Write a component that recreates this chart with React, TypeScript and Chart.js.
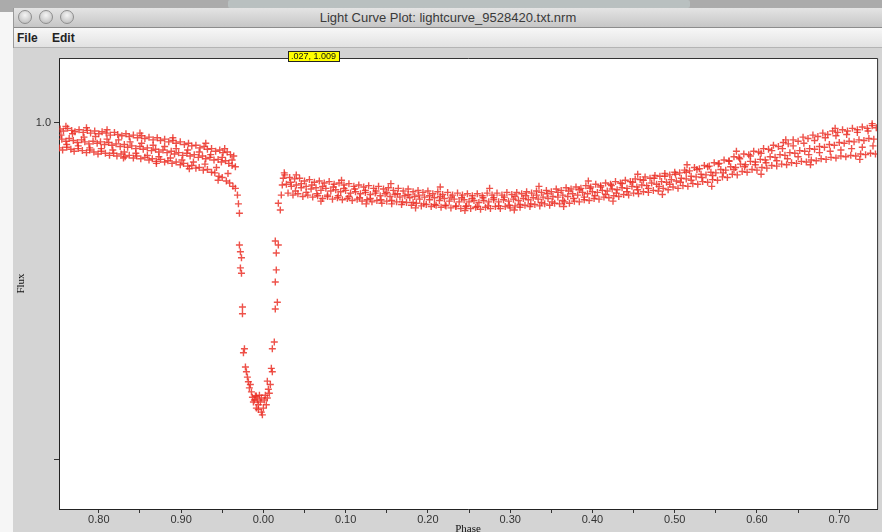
import React, { useEffect, useRef } from 'react';
import { Chart, registerables } from 'chart.js';

Chart.register(...registerables);

// ---- light curve data (phase, normalised flux) ----
// Overlapping cycles before the primary eclipse
const aPrePhase = [-0.247,-0.243,-0.238,-0.233,-0.229,-0.224,-0.219,-0.214,-0.210,-0.205,-0.200,-0.196,-0.191,-0.186,-0.181,-0.177,-0.172,-0.167,-0.163,-0.158,-0.153,-0.148,-0.144,-0.139,-0.134,-0.129,-0.125,-0.120,-0.115,-0.110,-0.106,-0.101,-0.096,-0.091,-0.087,-0.082,-0.077,-0.072,-0.068,-0.063,-0.058,-0.053,-0.049,-0.044,-0.040,-0.036];
const aPreFlux = [0.991,0.988,0.992,0.989,0.987,0.990,0.986,0.989,0.985,0.988,0.984,0.987,0.985,0.982,0.986,0.983,0.981,0.984,0.980,0.982,0.978,0.981,0.977,0.979,0.975,0.978,0.974,0.976,0.972,0.974,0.970,0.972,0.968,0.970,0.966,0.967,0.963,0.965,0.961,0.962,0.958,0.960,0.956,0.957,0.953,0.951];

const bPrePhase = [-0.245,-0.240,-0.236,-0.231,-0.226,-0.221,-0.217,-0.212,-0.207,-0.202,-0.198,-0.193,-0.188,-0.184,-0.179,-0.174,-0.169,-0.165,-0.160,-0.155,-0.150,-0.146,-0.141,-0.136,-0.131,-0.127,-0.122,-0.117,-0.112,-0.108,-0.103,-0.098,-0.093,-0.089,-0.084,-0.079,-0.074,-0.070,-0.065,-0.060,-0.055,-0.051,-0.046,-0.042,-0.038,-0.034];
const bPreFlux = [0.976,0.973,0.977,0.974,0.971,0.975,0.972,0.969,0.973,0.970,0.972,0.968,0.971,0.967,0.969,0.965,0.968,0.964,0.966,0.962,0.965,0.961,0.963,0.959,0.961,0.957,0.960,0.956,0.958,0.954,0.956,0.952,0.955,0.951,0.953,0.949,0.951,0.947,0.949,0.945,0.946,0.942,0.944,0.940,0.937,0.935];

const cPrePhase = [-0.248,-0.244,-0.239,-0.234,-0.230,-0.225,-0.220,-0.215,-0.211,-0.206,-0.201,-0.197,-0.192,-0.187,-0.182,-0.178,-0.173,-0.168,-0.163,-0.158,-0.154,-0.149,-0.144,-0.139,-0.135,-0.130,-0.125,-0.120,-0.116,-0.111,-0.106,-0.101,-0.097,-0.092,-0.087,-0.082,-0.078,-0.073,-0.068,-0.063,-0.059,-0.054,-0.050,-0.045,-0.041,-0.037,-0.034];
const cPreFlux = [0.963,0.960,0.964,0.961,0.958,0.962,0.959,0.956,0.960,0.957,0.954,0.958,0.955,0.952,0.955,0.951,0.954,0.950,0.952,0.948,0.951,0.947,0.949,0.945,0.947,0.943,0.946,0.942,0.944,0.940,0.942,0.938,0.940,0.936,0.937,0.933,0.934,0.930,0.931,0.927,0.926,0.921,0.919,0.914,0.911,0.906,0.903];

const dPrePhase = [-0.246,-0.239,-0.232,-0.225,-0.218,-0.211,-0.204,-0.197,-0.190,-0.183,-0.176,-0.169,-0.162,-0.155,-0.148,-0.141,-0.134,-0.127,-0.120,-0.113,-0.106,-0.099,-0.092,-0.085,-0.078,-0.071,-0.064,-0.057,-0.050,-0.043,-0.038];
const dPreFlux = [0.982,0.968,0.984,0.966,0.979,0.963,0.980,0.962,0.976,0.960,0.975,0.957,0.972,0.955,0.970,0.952,0.967,0.950,0.965,0.948,0.962,0.945,0.960,0.942,0.957,0.939,0.953,0.934,0.949,0.925,0.945];

const ePrePhase = [-0.240,-0.215,-0.190,-0.170,-0.150,-0.130,-0.110,-0.090,-0.070,-0.055,-0.047];
const ePreFlux = [0.995,0.993,0.990,0.948,0.985,0.940,0.978,0.932,0.970,0.915,0.962];

// Primary eclipse
const eclipsePhase = [-0.0315,-0.0303,-0.0291,-0.0291,-0.0279,-0.0266,-0.0279,-0.0266,-0.0254,-0.0254,-0.0230,-0.0242,-0.0218,-0.0206,-0.0194,-0.0182,-0.0170,-0.0158,-0.0145,-0.0133,-0.0121,-0.0109,-0.0097,-0.0085,-0.0085,-0.0073,-0.0061,-0.0061,-0.0048,-0.0036,-0.0024,-0.0024,-0.0012,0.0000,0.0012,0.0024,0.0036,0.0048,0.0048,0.0061,0.0073,0.0085,0.0097,0.0109,0.0109,0.0133,0.0145,0.0170,0.0145,0.0157,0.0145,0.0182,0.0157,0.0182,0.0206,0.0218,0.0230,0.0242,0.0254];
const eclipseFlux = [0.893,0.880,0.866,0.819,0.809,0.800,0.785,0.777,0.727,0.717,0.665,0.659,0.638,0.631,0.623,0.616,0.607,0.612,0.601,0.593,0.586,0.589,0.595,0.577,0.595,0.589,0.582,0.575,0.596,0.586,0.571,0.592,0.567,0.577,0.589,0.596,0.582,0.592,0.617,0.605,0.599,0.612,0.636,0.631,0.665,0.675,0.724,0.734,0.764,0.782,0.825,0.819,0.807,0.881,0.871,0.893,0.908,0.918,0.926];

// Overlapping cycles after the eclipse
const aPostPhase = [0.026,0.032,0.038,0.044,0.050,0.056,0.062,0.068,0.074,0.080,0.086,0.092,0.098,0.104,0.110,0.116,0.122,0.128,0.134,0.140,0.146,0.152,0.158,0.164,0.170,0.176,0.182,0.188,0.194,0.200,0.206,0.212,0.218,0.224,0.230,0.236,0.242,0.248,0.254,0.260,0.266,0.272,0.278,0.284,0.290,0.296,0.302,0.308,0.314,0.320,0.326,0.332,0.338,0.344,0.350,0.356,0.362,0.368,0.374,0.380,0.386,0.392,0.398,0.404,0.410,0.416,0.422,0.428,0.434,0.440,0.446,0.452,0.458,0.464,0.470,0.476,0.482,0.488,0.494,0.500,0.506,0.512,0.518,0.524,0.530,0.536,0.542,0.548,0.554,0.560,0.566,0.572,0.578,0.584,0.590,0.596,0.602,0.608,0.614,0.620,0.626,0.632,0.638,0.644,0.650,0.656,0.662,0.668,0.674,0.680,0.686,0.692,0.698,0.704,0.710,0.716,0.722,0.728,0.734,0.740,0.745];
const aPostFlux = [0.923,0.919,0.917,0.918,0.914,0.916,0.912,0.914,0.911,0.913,0.909,0.911,0.908,0.910,0.906,0.908,0.905,0.907,0.903,0.906,0.902,0.904,0.900,0.903,0.899,0.902,0.898,0.900,0.897,0.899,0.895,0.898,0.894,0.897,0.893,0.896,0.893,0.895,0.892,0.895,0.892,0.896,0.893,0.896,0.893,0.897,0.894,0.897,0.895,0.898,0.896,0.899,0.897,0.900,0.898,0.902,0.900,0.904,0.902,0.905,0.903,0.907,0.905,0.909,0.907,0.911,0.909,0.913,0.911,0.915,0.913,0.917,0.916,0.920,0.918,0.922,0.921,0.925,0.923,0.927,0.926,0.930,0.929,0.934,0.932,0.937,0.936,0.941,0.940,0.945,0.944,0.950,0.949,0.954,0.953,0.958,0.957,0.962,0.961,0.967,0.965,0.971,0.969,0.975,0.973,0.979,0.977,0.982,0.980,0.985,0.983,0.988,0.986,0.990,0.988,0.992,0.990,0.994,0.992,0.996,0.993];

const bPostPhase = [0.028,0.034,0.040,0.046,0.052,0.058,0.064,0.070,0.076,0.082,0.088,0.094,0.100,0.106,0.112,0.118,0.124,0.130,0.136,0.142,0.148,0.154,0.160,0.166,0.172,0.178,0.184,0.190,0.196,0.202,0.208,0.214,0.220,0.226,0.232,0.238,0.244,0.250,0.256,0.262,0.268,0.274,0.280,0.286,0.292,0.298,0.304,0.310,0.316,0.322,0.328,0.334,0.340,0.346,0.352,0.358,0.364,0.370,0.376,0.382,0.388,0.394,0.400,0.406,0.412,0.418,0.424,0.430,0.436,0.442,0.448,0.454,0.460,0.466,0.472,0.478,0.484,0.490,0.496,0.502,0.508,0.514,0.520,0.526,0.532,0.538,0.544,0.550,0.556,0.562,0.568,0.574,0.580,0.586,0.592,0.598,0.604,0.610,0.616,0.622,0.628,0.634,0.640,0.646,0.652,0.658,0.664,0.670,0.676,0.682,0.688,0.694,0.700,0.706,0.712,0.718,0.724,0.730,0.736,0.742];
const bPostFlux = [0.909,0.906,0.908,0.904,0.906,0.902,0.904,0.900,0.903,0.899,0.901,0.898,0.900,0.896,0.898,0.895,0.897,0.894,0.896,0.892,0.895,0.891,0.894,0.890,0.892,0.889,0.891,0.887,0.890,0.886,0.889,0.885,0.888,0.884,0.887,0.883,0.886,0.883,0.885,0.882,0.885,0.883,0.886,0.883,0.886,0.884,0.887,0.885,0.888,0.886,0.889,0.887,0.890,0.888,0.891,0.890,0.893,0.891,0.895,0.893,0.897,0.895,0.898,0.897,0.900,0.899,0.902,0.901,0.904,0.903,0.906,0.905,0.908,0.907,0.911,0.909,0.913,0.912,0.916,0.914,0.918,0.917,0.921,0.920,0.924,0.923,0.927,0.926,0.931,0.930,0.935,0.934,0.939,0.938,0.943,0.942,0.946,0.945,0.950,0.949,0.953,0.952,0.956,0.955,0.959,0.958,0.962,0.961,0.965,0.964,0.968,0.967,0.971,0.970,0.973,0.972,0.975,0.974,0.977,0.976];

const cPostPhase = [0.030,0.036,0.042,0.048,0.054,0.060,0.066,0.072,0.078,0.084,0.090,0.096,0.102,0.108,0.114,0.120,0.126,0.132,0.138,0.144,0.150,0.156,0.162,0.168,0.174,0.180,0.186,0.192,0.198,0.204,0.210,0.216,0.222,0.228,0.234,0.240,0.246,0.252,0.258,0.264,0.270,0.276,0.282,0.288,0.294,0.300,0.306,0.312,0.318,0.324,0.330,0.336,0.342,0.348,0.354,0.360,0.366,0.372,0.378,0.384,0.390,0.396,0.402,0.408,0.414,0.420,0.426,0.432,0.438,0.444,0.450,0.456,0.462,0.468,0.474,0.480,0.486,0.492,0.498,0.504,0.510,0.516,0.522,0.528,0.534,0.540,0.546,0.552,0.558,0.564,0.570,0.576,0.582,0.588,0.594,0.600,0.606,0.612,0.618,0.624,0.630,0.636,0.642,0.648,0.654,0.660,0.666,0.672,0.678,0.684,0.690,0.696,0.702,0.708,0.714,0.720,0.726,0.732,0.738,0.744];
const cPostFlux = [0.896,0.893,0.895,0.891,0.893,0.890,0.892,0.888,0.891,0.887,0.889,0.886,0.888,0.885,0.887,0.884,0.886,0.883,0.885,0.881,0.884,0.880,0.883,0.879,0.882,0.878,0.881,0.877,0.879,0.876,0.878,0.875,0.877,0.874,0.876,0.873,0.876,0.873,0.875,0.872,0.875,0.873,0.876,0.873,0.876,0.874,0.877,0.875,0.878,0.876,0.879,0.877,0.880,0.878,0.881,0.880,0.883,0.881,0.884,0.883,0.886,0.885,0.888,0.887,0.890,0.889,0.892,0.891,0.894,0.893,0.896,0.895,0.898,0.897,0.900,0.899,0.903,0.901,0.905,0.903,0.907,0.906,0.910,0.909,0.913,0.912,0.916,0.915,0.920,0.919,0.924,0.923,0.928,0.927,0.931,0.930,0.934,0.933,0.937,0.936,0.939,0.938,0.941,0.940,0.943,0.942,0.945,0.944,0.947,0.946,0.949,0.948,0.951,0.950,0.952,0.951,0.954,0.953,0.955,0.954];

const dPostPhase = [0.033,0.039,0.046,0.052,0.059,0.065,0.072,0.078,0.085,0.091,0.098,0.104,0.111,0.117,0.124,0.130,0.137,0.143,0.150,0.156,0.163,0.169,0.176,0.182,0.189,0.195,0.202,0.208,0.215,0.221,0.228,0.234,0.241,0.247,0.254,0.260,0.267,0.273,0.280,0.286,0.293,0.299,0.306,0.312,0.319,0.325,0.332,0.338,0.345,0.351,0.358,0.364,0.371,0.377,0.384,0.390,0.397,0.403,0.410,0.416,0.423,0.429,0.436,0.442,0.449,0.455,0.462,0.468,0.475,0.481,0.488,0.494,0.501,0.507,0.514,0.520,0.527,0.533,0.540,0.546,0.553,0.559,0.566,0.572,0.579,0.585,0.592,0.598,0.605,0.611,0.618,0.624,0.631,0.637,0.644,0.650,0.657,0.663,0.670,0.676,0.683,0.689,0.696,0.702,0.709,0.715,0.722,0.728,0.735,0.741];
const dPostFlux = [0.912,0.899,0.910,0.897,0.908,0.895,0.906,0.893,0.905,0.892,0.903,0.891,0.902,0.889,0.900,0.888,0.899,0.886,0.897,0.885,0.895,0.883,0.894,0.882,0.893,0.880,0.892,0.879,0.891,0.878,0.890,0.877,0.889,0.877,0.888,0.876,0.889,0.877,0.889,0.877,0.890,0.878,0.891,0.879,0.892,0.880,0.893,0.882,0.895,0.883,0.897,0.885,0.899,0.888,0.901,0.890,0.903,0.892,0.905,0.894,0.907,0.896,0.910,0.898,0.912,0.901,0.915,0.903,0.918,0.906,0.921,0.909,0.924,0.912,0.927,0.915,0.931,0.919,0.935,0.922,0.939,0.926,0.943,0.931,0.947,0.935,0.951,0.938,0.955,0.941,0.959,0.944,0.962,0.947,0.966,0.950,0.970,0.953,0.974,0.956,0.978,0.958,0.981,0.960,0.983,0.962,0.986,0.964,0.988,0.966];

const ePostPhase = [0.040,0.070,0.095,0.125,0.155,0.185,0.215,0.245,0.275,0.305,0.335,0.365,0.395,0.425,0.455,0.485,0.515,0.545,0.575,0.605,0.635,0.665,0.695,0.725,0.740];
const ePostFlux = [0.923,0.884,0.915,0.880,0.910,0.874,0.905,0.870,0.903,0.871,0.906,0.876,0.914,0.884,0.924,0.894,0.938,0.906,0.958,0.924,0.975,0.938,0.992,0.946,0.999];

// ---- axes ----
const phaseMin = -0.2484;
const phaseMax = 0.746;
const xTickValues = [-0.2,-0.15,-0.1,-0.05,0,0.05,0.1,0.15,0.2,0.25,0.3,0.35,0.4,0.45,0.5,0.55,0.6,0.65,0.7];
const xTickLabels = ['0.80','','0.90','','0.00','','0.10','','0.20','','0.30','','0.40','','0.50','','0.60','','0.70'];
const fluxMin = 0.4273;
const fluxMax = 1.0964;
const yTickValues = [0.5, 1.0];
const yTickLabels = ['', '1.0'];

// cursor read-out shown above the plot
const readoutPhase = 0.027;
const readoutFlux = 1.009;

const windowTitle = 'Light Curve Plot: lightcurve_9528420.txt.nrm';
const menuItems = ['File', 'Edit'];

function pairs(ph: number[], fl: number[]) {
  return ph.map((p, i) => ({ x: p, y: fl[i] }));
}

const plotFrame = {
  id: 'plotFrame',
  beforeDraw(chart: any) {
    const { ctx, chartArea: a, width, height } = chart;
    ctx.save();
    ctx.fillStyle = '#d4d4d4';
    ctx.fillRect(0, 0, width, height);
    ctx.fillStyle = '#ffffff';
    ctx.fillRect(a.left, a.top, a.right - a.left, a.bottom - a.top);
    ctx.restore();
  },
  afterDraw(chart: any) {
    const { ctx, chartArea: a } = chart;
    ctx.save();
    // top and right edges of the plot
    ctx.strokeStyle = '#333';
    ctx.lineWidth = 1;
    ctx.beginPath();
    ctx.moveTo(a.left, a.top + 0.5);
    ctx.lineTo(a.right + 0.5, a.top + 0.5);
    ctx.lineTo(a.right + 0.5, a.bottom);
    ctx.stroke();

    // axis titles
    ctx.fillStyle = '#111';
    ctx.font = '11px "Liberation Serif", "DejaVu Serif", serif';
    ctx.textAlign = 'center';
    ctx.textBaseline = 'middle';
    const xs = chart.scales.x;
    ctx.fillText('Phase', (a.left + a.right) / 2, a.bottom + 20);
    ctx.save();
    ctx.translate(8.5, (a.top + a.bottom) / 2);
    ctx.rotate(-Math.PI / 2);
    ctx.fillText('Flux', 0, 0);
    ctx.restore();

    // cursor read-out box
    const text = `${readoutPhase.toFixed(3).replace(/^0/, '')}, ${readoutFlux.toFixed(3)}`;
    ctx.font = '9px "Liberation Sans", Arial, sans-serif';
    const w = Math.ceil(ctx.measureText(text).width) + 5;
    const bx = Math.round(xs.getPixelForValue(readoutPhase)) + 2.5;
    const by = a.top - 6.5;
    ctx.fillStyle = '#ffff00';
    ctx.fillRect(bx, by, w, 10);
    ctx.strokeStyle = '#222';
    ctx.strokeRect(bx, by, w, 10);
    ctx.fillStyle = '#111';
    ctx.textAlign = 'left';
    ctx.fillText(text, bx + 2.5, by + 5.5);
    ctx.restore();
  },
};

function LightCurve() {
  const ref = useRef<HTMLCanvasElement | null>(null);
  useEffect(() => {
    if (!ref.current) return;
    const points = [
      ...pairs(aPrePhase, aPreFlux),
      ...pairs(bPrePhase, bPreFlux),
      ...pairs(cPrePhase, cPreFlux),
      ...pairs(dPrePhase, dPreFlux),
      ...pairs(ePrePhase, ePreFlux),
      ...pairs(eclipsePhase, eclipseFlux),
      ...pairs(aPostPhase, aPostFlux),
      ...pairs(bPostPhase, bPostFlux),
      ...pairs(cPostPhase, cPostFlux),
      ...pairs(dPostPhase, dPostFlux),
      ...pairs(ePostPhase, ePostFlux),
    ];
    const tickFont = { family: '"Liberation Sans", Arial, sans-serif', size: 11 };
    const chart = new Chart(ref.current, {
      type: 'scatter',
      data: {
        datasets: [
          {
            data: points,
            pointStyle: 'cross',
            pointRadius: 3.5,
            pointHoverRadius: 3.5,
            borderWidth: 1.4,
            borderColor: 'rgba(234, 44, 34, 0.82)',
            backgroundColor: 'rgba(234, 44, 34, 0.82)',
            showLine: false,
          },
        ],
      },
      options: {
        animation: false,
        responsive: false,
        events: [],
        layout: { padding: { top: 10, right: 2, left: 0, bottom: 0 } },
        plugins: { legend: { display: false }, tooltip: { enabled: false } },
        scales: {
          x: {
            type: 'linear',
            min: phaseMin,
            max: phaseMax,
            afterBuildTicks: (s: any) => {
              s.ticks = xTickValues.map((v) => ({ value: v }));
            },
            afterFit: (s: any) => {
              s.height = 23;
            },
            ticks: {
              autoSkip: false,
              maxRotation: 0,
              padding: 0,
              color: '#333',
              font: tickFont,
              callback: (_v: any, i: number) => xTickLabels[i],
            },
            grid: { drawOnChartArea: false, drawTicks: true, tickLength: 4, tickColor: '#333' },
            border: { display: true, color: '#222', width: 1 },
          },
          y: {
            type: 'linear',
            min: fluxMin,
            max: fluxMax,
            afterBuildTicks: (s: any) => {
              s.ticks = yTickValues.map((v) => ({ value: v }));
            },
            afterFit: (s: any) => {
              s.width = 46;
            },
            ticks: {
              autoSkip: false,
              padding: 3,
              color: '#333',
              font: tickFont,
              callback: (_v: any, i: number) => yTickLabels[i],
            },
            grid: { drawOnChartArea: false, drawTicks: true, tickLength: 5, tickColor: '#333' },
            border: { display: true, color: '#222', width: 1 },
          },
        },
      },
      plugins: [plotFrame],
    });
    return () => chart.destroy();
  }, []);
  return <canvas ref={ref} width={869} height={484} style={{ display: 'block', width: 869, height: 484 }} />;
}

function Light({ x }: { x: number }) {
  return (
    <div
      style={{
        position: 'absolute',
        left: x - 7,
        top: 2,
        width: 14,
        height: 14,
        borderRadius: '50%',
        background: 'radial-gradient(circle at 50% 35%, #f4f4f4 0%, #d2d2d2 55%, #b6b6b6 100%)',
        border: '1px solid #8e8e8e',
        boxSizing: 'border-box',
      }}
    />
  );
}

export default function App() {
  return (
    <div
      style={{
        position: 'fixed',
        left: 0,
        top: 0,
        width: 882,
        height: 532,
        overflow: 'hidden',
        background: '#f6f6f6',
        fontFamily: '"Liberation Sans", Arial, sans-serif',
      }}
    >
      {/* desktop strip behind the window */}
      <div style={{ position: 'absolute', left: 0, top: 0, width: 882, height: 12, background: '#ababab' }} />
      <div style={{ position: 'absolute', left: 228, top: 0, width: 462, height: 8, background: '#b9c0c0', borderRadius: 2 }} />
      {/* window */}
      <div style={{ position: 'absolute', left: 13, top: 8, width: 869, height: 524, background: '#d4d4d4', borderLeft: '1px solid #9a9a9a', boxSizing: 'border-box' }}>
        <div
          style={{
            position: 'absolute',
            left: 0,
            top: 0,
            right: 0,
            height: 20,
            background: 'linear-gradient(#e4e4e4, #c6c6c6)',
            borderBottom: '1px solid #8c8c8c',
            boxSizing: 'border-box',
          }}
        />
        <Light x={11} />
        <Light x={32} />
        <Light x={53} />
        <div
          style={{
            position: 'absolute',
            left: 0,
            right: 0,
            top: 3,
            textAlign: 'center',
            fontSize: 13,
            color: '#3a3a3a',
            lineHeight: '14px',
          }}
        >
          {windowTitle}
        </div>
        <div
          style={{
            position: 'absolute',
            left: 0,
            top: 20,
            right: 0,
            height: 20,
            background: 'linear-gradient(#f7f7f7, #e2e2e2)',
            borderBottom: '1px solid #b4b4b4',
            boxSizing: 'border-box',
          }}
        >
          {menuItems.map((m, i) => (
            <span
              key={m}
              style={{ position: 'absolute', left: 3 + i * 35, top: 3, fontSize: 12, fontWeight: 'bold', color: '#222' }}
            >
              {m}
            </span>
          ))}
        </div>
      </div>
      <div style={{ position: 'absolute', left: 13, top: 48 }}>
        <LightCurve />
      </div>
    </div>
  );
}
